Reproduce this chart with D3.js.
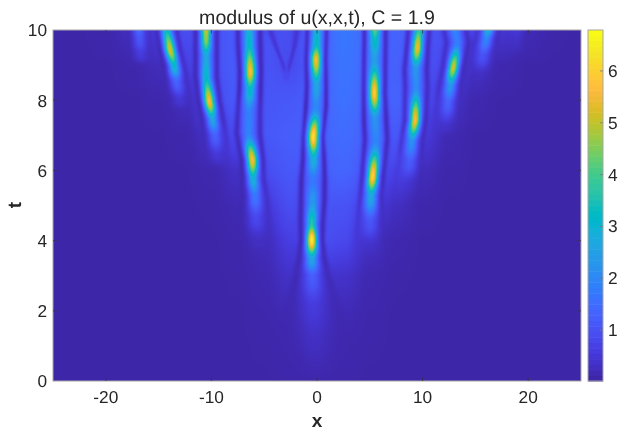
<!DOCTYPE html>
<html><head><meta charset="utf-8">
<script src="https://cdn.jsdelivr.net/npm/d3@7"></script>
<style>html,body{margin:0;padding:0;background:#fff;overflow:hidden}
#c{position:absolute;left:53px;top:30px}svg{position:absolute;left:0;top:0}
text{font-family:"Liberation Sans",Arial,sans-serif;fill:#262626;text-rendering:geometricPrecision}</style></head>
<body><canvas id="c"></canvas><svg id="s" width="620" height="428"></svg>
<script>
const titleText = "modulus of u(x,x,t), C = 1.9";
const xTicks = [-20,-10,0,10,20];
const tTicks = [0,2,4,6,8,10];
const barTicks = [1,2,3,4,5,6];
const valueDomain = [0.02,6.79];
const parula = [[.2422,.1504,.6603],[.2504,.165,.7076],[.2578,.1818,.7511],[.2647,.1978,.7952],[.2706,.2147,.8364],[.2751,.2342,.871],[.2783,.2559,.8991],[.2803,.2782,.9221],[.2813,.3006,.9414],[.281,.3228,.9579],[.2795,.3447,.9717],[.276,.3667,.9829],[.2699,.3892,.9906],[.2602,.4123,.9952],[.244,.4358,.9988],[.2206,.4603,.9973],[.1963,.4847,.9892],[.1834,.5074,.9798],[.1786,.5289,.9682],[.1764,.5499,.952],[.1687,.5703,.9359],[.154,.5902,.9218],[.146,.6091,.9079],[.138,.6276,.8973],[.1248,.6459,.8883],[.1113,.6635,.8763],[.0952,.6798,.8598],[.0689,.6948,.8394],[.0297,.7082,.8163],[.0036,.7203,.7917],[.0067,.7312,.766],[.0433,.7411,.7394],[.0964,.75,.712],[.1408,.7584,.6842],[.1717,.767,.6554],[.1938,.7758,.6251],[.2161,.7843,.5923],[.247,.7918,.5567],[.2906,.7973,.5188],[.3406,.8008,.4789],[.3909,.8029,.4354],[.4456,.8024,.3909],[.5044,.7993,.348],[.5616,.7942,.3045],[.6174,.7876,.2612],[.672,.7793,.2227],[.7242,.7698,.191],[.7738,.7598,.1646],[.8203,.7498,.1535],[.8634,.7406,.1596],[.9035,.733,.1774],[.9393,.7288,.21],[.9728,.7298,.2394],[.9956,.7434,.2371],[.997,.7659,.2199],[.9952,.7893,.2028],[.9892,.8136,.1885],[.9786,.8386,.1766],[.9676,.8639,.1643],[.961,.889,.1537],[.9597,.9135,.1423],[.9628,.9373,.1265],[.9691,.9606,.1064],[.9769,.9839,.0805]];

// Smooth background level, rows by t, columns by x
const plateauX = [-25,-22.5,-20,-17.5,-15,-12.5,-10,-7.5,-5,-2.5,0,2.5,5,7.5,10,12.5,15,17.5,20,22.5,25];
const plateauT = [0,1,2,3,4,5,6,7,8,9,10];
const plateau = [
[.02,.02,.02,.02,.02,.02,.02,.02,.02,.03,.05,.03,.02,.02,.02,.02,.02,.02,.02,.02,.02],
[.02,.02,.02,.02,.02,.02,.02,.02,.03,.07,.14,.07,.03,.02,.02,.02,.02,.02,.02,.02,.02],
[.02,.02,.02,.02,.02,.02,.02,.02,.05,.16,.28,.16,.05,.02,.02,.02,.02,.02,.02,.02,.02],
[.02,.02,.02,.02,.02,.02,.02,.03,.1,.32,.48,.34,.1,.03,.02,.02,.02,.02,.02,.02,.02],
[.02,.02,.02,.02,.02,.02,.02,.05,.2,.6,.95,.8,.28,.08,.02,.02,.02,.02,.02,.02,.02],
[.02,.02,.02,.02,.02,.02,.03,.12,.5,.9,1.05,1.0,.7,.25,.05,.02,.02,.02,.02,.02,.02],
[.02,.02,.02,.02,.02,.02,.08,.3,.9,1.1,1.25,1.35,1.05,.7,.2,.04,.02,.02,.02,.02,.02],
[.02,.02,.02,.02,.02,.05,.35,.9,1.1,1.2,1.3,1.45,1.25,1.1,.55,.12,.02,.02,.02,.02,.02],
[.02,.02,.02,.02,.05,.2,.8,1.15,1.05,1.1,1.3,1.55,1.4,1.3,.9,.4,.08,.02,.02,.02,.02],
[.02,.02,.02,.05,.2,.65,1.0,1.15,1.0,.85,1.25,1.6,1.45,1.25,1.0,.75,.3,.08,.02,.02,.02],
[.02,.02,.05,.25,.55,.9,1.0,1.15,1.0,.9,1.25,1.65,1.45,1.3,1.05,.95,.75,.45,.15,.03,.02]];

// Filaments: [t, x, peak value, half width, dark side-line offset, dark side-line depth]
const ridgeI = [[10.1,-16.9,1.4,.6,1,.3],[9.7,-16.8,1.0,.65,1,.2],[9.3,-16.7,.5,.75,1,.1],[8.9,-16.6,0,.8,1,0]];
const ridgeA = [[10.1,-14.3,3,.55,.95,.6],[9.43,-13.9,5.2,.52,.95,.6],[8.95,-13.5,3,.55,.95,.5],[8.49,-13.3,1.2,.65,1,.3],[8,-13,.4,.75,1,.1],[7.6,-13,0,.8,1,0]];
const ridgeB = [[10.1,-10.5,5.2,.5,1,.75],[9.75,-10.5,4.6,.5,1,.75],[9.23,-10.5,2.5,.55,1,.75],[8.67,-10.5,3,.55,1,.75],[7.96,-10.2,5.6,.52,1,.7],[7.43,-9.88,2.5,.55,1,.6],[6.96,-9.66,1.2,.65,1.05,.35],[6.4,-9.5,.4,.75,1,.1],[6,-9.4,0,.8,1,0]];
const ridgeC = [[10.1,-6.44,2.6,.6,1.05,.8],[9.6,-6.42,3,.55,1.05,.8],[8.81,-6.31,5.6,.52,1,.85],[8.29,-6.35,3,.55,1,.85],[7.63,-6.45,1.5,.65,1.05,.75],[7.06,-6.5,1.6,.65,1.1,.75],[6.3,-6.12,5.6,.52,1,.75],[5.73,-6.05,2.8,.55,1,.6],[5.25,-5.87,1.6,.65,1.1,.45],[4.6,-5.8,.7,.85,1.2,.25],[4,-5.7,.2,1,1.3,.1],[3.5,-5.6,0,1,1.5,0]];
const ridgeD = [[10.1,0,2.5,.55,.9,.75],[9.6,-.05,3,.55,.9,.75],[9.15,-.1,5.5,.5,.9,.8],[8.39,-.05,2.3,.55,.9,.85],[7.81,-.1,1.5,.6,.95,.85],[6.96,-.36,6.2,.52,.9,.8],[6.3,-.33,2.6,.55,1,.85],[5.73,-.38,1.2,.65,1.1,.85],[5.16,-.41,2,.65,1.1,.85],[4.5,-.5,3.5,.52,1.05,.8],[4.02,-.5,6.5,.5,1,.8],[3.45,-.5,2.5,.62,1.2,.7],[2.97,-.45,1.1,.85,1.5,.55],[2.1,-.4,.45,1.2,2.2,.4],[1.17,-.3,.22,1.5,3,.2],[.2,-.2,.05,1.6,3.6,.05]];
const ridgeE = [[10.1,5.49,4.2,.52,1,.8],[9.7,5.49,3,.55,1,.8],[9.15,5.46,2,.6,1,.8],[8.2,5.43,5.8,.5,1,.8],[7.43,5.5,1.8,.6,1.05,.85],[6.87,5.59,1.5,.65,1.05,.8],[5.82,5.27,6,.5,1,.7],[5.25,5.1,2.6,.6,1,.55],[4.5,5.0,.9,.8,1.15,.3],[3.8,5,.2,1,1.4,.1],[3.4,5,0,1,1.4,0]];
const ridgeF = [[10.1,9.66,3.4,.52,1,.7],[9.49,9.5,5.4,.5,1,.75],[8.86,9.34,2,.6,1.05,.75],[8.39,9.4,1.8,.6,1.05,.7],[7.43,9.3,5.6,.5,1,.65],[6.78,8.96,2,.6,1,.5],[6.2,8.8,1,.75,1.05,.25],[5.6,8.6,.2,.9,1.2,.1],[5.2,8.6,0,1,1.3,0]];
const ridgeG = [[10.1,13.0,1.7,.6,1.05,.55],[9.65,13.3,1.6,.6,1.05,.6],[8.92,12.9,5.1,.5,1,.55],[8.39,12.6,2.2,.6,1.05,.45],[7.9,12.4,1.2,.7,1.05,.25],[7.2,12.2,.25,.85,1.2,.1],[6.9,12.1,0,1,1.3,0]];
const ridgeH = [[10.1,16.3,3.1,.55,1,.4],[9.7,16.0,1.8,.6,1.05,.35],[9.24,15.7,.9,.75,1.1,.15],[8.7,15.5,.15,.9,1.2,.05],[8.4,15.4,0,1,1.3,0]];
const ridgeJ = [[10.1,19,.45,.6,1,.1],[9.6,18.9,.2,.7,1,.05],[9.2,18.8,0,.8,1,0]];
const hollowU = [[10.1,-3.2,0,.5,1.35,.55],[9.5,-3.0,0,.5,.85,.55],[9,-2.9,0,.5,.3,.45],[8.7,-2.9,0,.5,.1,.15],[8.4,-2.9,0,.5,.1,0]];
const ridges = [ridgeI,ridgeA,ridgeB,ridgeC,ridgeD,ridgeE,ridgeF,ridgeG,ridgeH,ridgeJ,hollowU];

const L=53,R=581,T=30,B=381,W=R-L,H=B-T;
const xScale=d3.scaleLinear().domain([-25,25]).range([L,R]);
const tScale=d3.scaleLinear().domain([0,10]).range([B,T]);
const barScale=d3.scaleLinear().domain(valueDomain).range([B,T]);
const rgb=parula.map(c=>d3.rgb(c[0]*255,c[1]*255,c[2]*255));
const colorStops=d3.scaleLinear().domain(d3.range(64).map(i=>valueDomain[0]+(valueDomain[1]-valueDomain[0])*i/63))
  .range(rgb).interpolate(d3.interpolateRgb).clamp(true);

function plateauAt(x,t){
  const ix=Math.max(0,Math.min(plateauX.length-2,d3.bisectRight(plateauX,x)-1));
  const it=Math.max(0,Math.min(plateauT.length-2,d3.bisectRight(plateauT,t)-1));
  let fx=(x-plateauX[ix])/(plateauX[ix+1]-plateauX[ix]), ft=(t-plateauT[it])/(plateauT[it+1]-plateauT[it]);
  fx=fx*fx*(3-2*fx);
  const a=plateau[it][ix],b=plateau[it][ix+1],c=plateau[it+1][ix],d=plateau[it+1][ix+1];
  return (a*(1-fx)+b*fx)*(1-ft)+(c*(1-fx)+d*fx)*ft;
}
function ridgeAt(r,t){ // nodes are ordered by descending t
  if(t>r[0][0]||t<r[r.length-1][0])return null;
  let i=0; while(i<r.length-2&&t<r[i+1][0])i++;
  const p=r[i],q=r[i+1];
  const f=(p[0]-t)/(p[0]-q[0]), s=f*f*(3-2*f);
  return {x:p[1]+(q[1]-p[1])*f,a:p[2]+(q[2]-p[2])*s,w:p[3]+(q[3]-p[3])*f,o:p[4]+(q[4]-p[4])*f,d:p[5]+(q[5]-p[5])*s};
}
function valueAt(x,t,rs){
  let base=plateauAt(x,t),add=0;
  for(const s of rs){ if(!s)continue;
    const dx=x-s.x;
    if(Math.abs(dx)>6)continue;
    add+=s.a*Math.exp(-(dx*dx)/(s.w*s.w));
    const nw=Math.max(.22,s.o*.3), e=(Math.abs(dx)-s.o)/nw;
    base*=1-s.d*Math.exp(-e*e);
  }
  return Math.sqrt(base*base+add*add);
}
const cv=document.getElementById('c');cv.width=W;cv.height=H;
const ctx=cv.getContext('2d');const img=ctx.createImageData(W,H);
for(let j=0;j<H;j++){
  const t=tScale.invert(T+j+.5);
  const rs=ridges.map(r=>ridgeAt(r,t));
  for(let i=0;i<W;i++){
    const x=xScale.invert(L+i+.5);
    const c=d3.rgb(colorStops(valueAt(x,t,rs)));
    const k=(j*W+i)*4;img.data[k]=c.r;img.data[k+1]=c.g;img.data[k+2]=c.b;img.data[k+3]=255;
  }
}
ctx.putImageData(img,0,0);

const svg=d3.select('#s');
const tickColor='#3a3a3a',boxColor='#a6a6a6',fs=17.3;
svg.append('rect').attr('x',L).attr('y',T).attr('width',W).attr('height',H).attr('fill','none').attr('stroke',boxColor).attr('stroke-width',1);
const tl=3.5;
svg.selectAll('.xb').data(xTicks).join('line').attr('x1',d=>xScale(d)).attr('x2',d=>xScale(d)).attr('y1',B).attr('y2',B-tl).attr('stroke',tickColor).attr('stroke-width',.8);
svg.selectAll('.xt').data(xTicks).join('line').attr('x1',d=>xScale(d)).attr('x2',d=>xScale(d)).attr('y1',T).attr('y2',T+tl).attr('stroke',tickColor).attr('stroke-width',.8);
svg.selectAll('.yl').data(tTicks.slice(1,-1)).join('line').attr('x1',L).attr('x2',L+tl).attr('y1',d=>tScale(d)).attr('y2',d=>tScale(d)).attr('stroke',tickColor).attr('stroke-width',.8);
svg.selectAll('.yr').data(tTicks.slice(1,-1)).join('line').attr('x1',R).attr('x2',R-tl).attr('y1',d=>tScale(d)).attr('y2',d=>tScale(d)).attr('stroke',tickColor).attr('stroke-width',.8);
svg.selectAll('.xl').data(xTicks).join('text').attr('x',d=>xScale(d)).attr('y',403).attr('text-anchor','middle').attr('font-size',fs).text(d=>d);
svg.selectAll('.tl').data(tTicks).join('text').attr('x',47).attr('y',d=>tScale(d)+6.3).attr('text-anchor','end').attr('font-size',fs).text(d=>d);
svg.append('text').attr('x',317).attr('y',23.5).attr('text-anchor','middle').attr('font-size',19.6).text(titleText);
svg.append('text').attr('x',317).attr('y',427).attr('text-anchor','middle').attr('font-size',19).attr('font-weight','bold').text('x');
svg.append('text').attr('transform','translate(21,205) rotate(-90)').attr('text-anchor','middle').attr('font-size',19).attr('font-weight','bold').text('t');
// colour bar
const bL=588,bW=15,dv=(valueDomain[1]-valueDomain[0])/64;
svg.selectAll('.cb').data(rgb).join('rect').attr('x',bL).attr('width',bW)
  .attr('y',(d,i)=>barScale(valueDomain[0]+dv*(i+1))).attr('height',(d,i)=>barScale(valueDomain[0]+dv*i)-barScale(valueDomain[0]+dv*(i+1))+.5).attr('fill',d=>d);
svg.append('rect').attr('x',bL).attr('y',T).attr('width',bW).attr('height',H).attr('fill','none').attr('stroke',boxColor);
svg.selectAll('.bt').data(barTicks).join('line').attr('x1',bL+bW).attr('x2',bL+bW-tl+.5).attr('y1',d=>barScale(d)).attr('y2',d=>barScale(d)).attr('stroke','#777').attr('stroke-width',.8);
svg.selectAll('.bl').data(barTicks).join('text').attr('x',608).attr('y',d=>barScale(d)+6).attr('font-size',fs).text(d=>d);
</script></body></html>
